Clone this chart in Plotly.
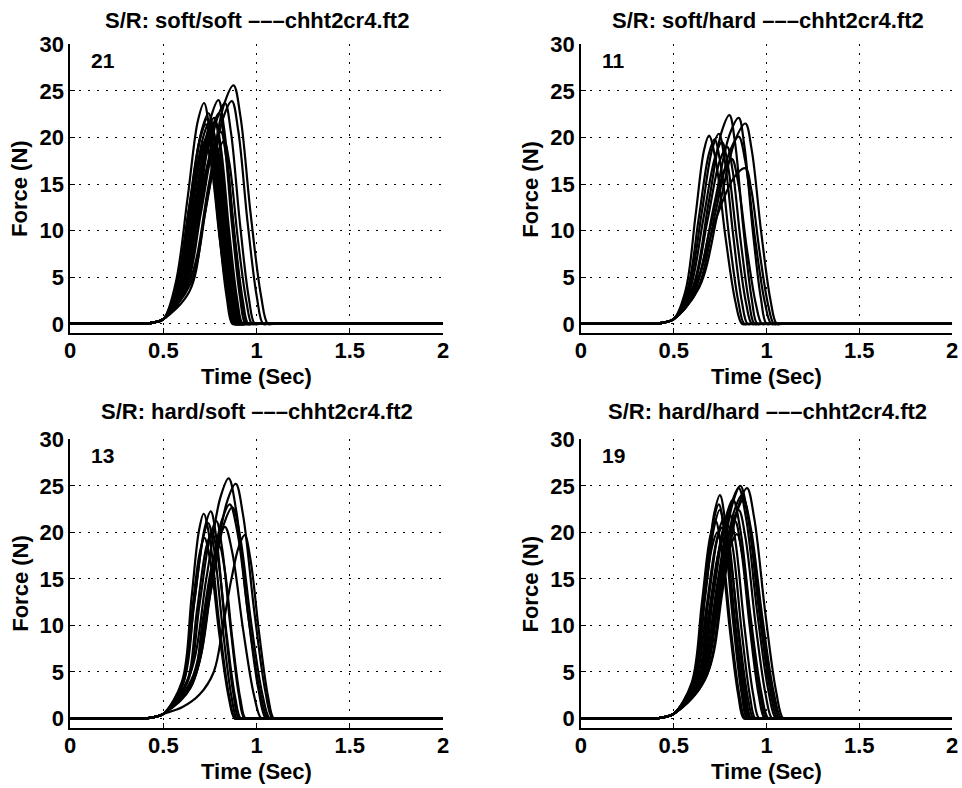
import plotly.graph_objects as go

# ---------------- data ----------------
PANEL_TITLES = [
    "S/R: soft/soft –––chht2cr4.ft2",
    "S/R: soft/hard –––chht2cr4.ft2",
    "S/R: hard/soft –––chht2cr4.ft2",
    "S/R: hard/hard –––chht2cr4.ft2",
]
CURVE_COUNTS = ["21", "11", "13", "19"]
X_TITLE = "Time (Sec)"
Y_TITLE = "Force (N)"
X_TICKS = [0, 0.5, 1, 1.5, 2]
X_TICK_LABELS = ["0", "0.5", "1", "1.5", "2"]
Y_TICKS = [0, 5, 10, 15, 20, 25, 30]
Y_TICK_LABELS = ["0", "5", "10", "15", "20", "25", "30"]

# common flat start of every trial and flat end
BASE_T = [0.0, 0.30, 0.40, 0.45, 0.50]
BASE_F = [0.0, 0.0, 0.0, 0.15, 0.5]
END_T = [2.0]
END_F = [0.0]

# soft/soft (21 trials): time points (s) and forces (N)
SS_T = [
    [0.565, 0.631, 0.685, 0.718, 0.748, 0.794, 0.840, 0.870, 0.900],
    [0.573, 0.645, 0.706, 0.742, 0.772, 0.816, 0.860, 0.890, 0.920],
    [0.571, 0.641, 0.700, 0.735, 0.765, 0.810, 0.855, 0.885, 0.915],
    [0.568, 0.637, 0.694, 0.728, 0.758, 0.803, 0.848, 0.878, 0.908],
    [0.576, 0.651, 0.714, 0.752, 0.782, 0.826, 0.870, 0.900, 0.930],
    [0.592, 0.664, 0.724, 0.760, 0.789, 0.833, 0.876, 0.905, 0.935],
    [0.581, 0.651, 0.710, 0.745, 0.775, 0.820, 0.865, 0.895, 0.925],
    [0.595, 0.670, 0.733, 0.770, 0.798, 0.841, 0.884, 0.912, 0.942],
    [0.575, 0.639, 0.693, 0.725, 0.756, 0.803, 0.849, 0.880, 0.910],
    [0.598, 0.676, 0.741, 0.780, 0.809, 0.853, 0.896, 0.925, 0.955],
    [0.603, 0.685, 0.754, 0.795, 0.826, 0.873, 0.919, 0.950, 0.980],
    [0.610, 0.691, 0.758, 0.798, 0.826, 0.869, 0.912, 0.940, 0.970],
    [0.620, 0.710, 0.785, 0.830, 0.862, 0.910, 0.958, 0.990, 1.020],
    [0.645, 0.740, 0.819, 0.867, 0.901, 0.951, 1.001, 1.035, 1.065],
    [0.641, 0.742, 0.826, 0.876, 0.913, 0.968, 1.023, 1.060, 1.090],
    [0.620, 0.701, 0.768, 0.808, 0.837, 0.882, 0.926, 0.955, 0.985],
    [0.600, 0.669, 0.727, 0.762, 0.790, 0.831, 0.872, 0.900, 0.930],
    [0.606, 0.681, 0.744, 0.782, 0.810, 0.851, 0.892, 0.920, 0.950],
    [0.571, 0.643, 0.702, 0.738, 0.768, 0.813, 0.858, 0.888, 0.918],
    [0.640, 0.719, 0.785, 0.825, 0.855, 0.900, 0.945, 0.975, 1.005],
    [0.589, 0.667, 0.733, 0.772, 0.801, 0.844, 0.886, 0.915, 0.945],
]
SS_F = [
    [4.3, 13.7, 21.8, 23.7, 20.6, 10.9, 2.8, 0, 0],
    [4.1, 13.1, 20.8, 22.6, 19.7, 10.4, 2.7, 0, 0],
    [4.0, 12.8, 20.2, 22.0, 19.1, 10.1, 2.6, 0, 0],
    [3.9, 12.4, 19.7, 21.4, 18.6, 9.8, 2.6, 0, 0],
    [3.9, 12.6, 20.1, 21.8, 19.0, 10.0, 2.6, 0, 0],
    [3.8, 12.2, 19.3, 21.0, 18.3, 9.7, 2.5, 0, 0],
    [3.7, 11.9, 18.9, 20.5, 17.8, 9.4, 2.5, 0, 0],
    [3.6, 11.6, 18.4, 20.0, 17.4, 9.2, 2.4, 0, 0],
    [3.5, 11.4, 18.0, 19.6, 17.1, 9.0, 2.4, 0, 0],
    [3.9, 12.5, 19.9, 21.6, 18.8, 9.9, 2.6, 0, 0],
    [4.3, 13.9, 22.1, 24.0, 20.9, 11.0, 2.9, 0, 0],
    [4.1, 13.1, 20.8, 22.6, 19.7, 10.4, 2.7, 0, 0],
    [4.3, 13.7, 21.8, 23.7, 20.6, 10.9, 2.8, 0, 0],
    [4.3, 13.9, 22.0, 23.9, 20.8, 11.0, 2.9, 0, 0],
    [4.6, 14.8, 23.6, 25.6, 22.3, 11.8, 3.1, 0, 0],
    [3.7, 11.9, 19.0, 20.6, 17.9, 9.5, 2.5, 0, 0],
    [3.2, 10.2, 16.2, 17.6, 15.3, 8.1, 2.1, 0, 0],
    [3.4, 11.1, 17.6, 19.1, 16.6, 8.8, 2.3, 0, 0],
    [3.6, 11.7, 18.5, 20.1, 17.5, 9.2, 2.4, 0, 0],
    [3.5, 11.4, 18.0, 19.6, 17.1, 9.0, 2.4, 0, 0],
    [4.0, 12.8, 20.3, 22.1, 19.2, 10.2, 2.7, 0, 0],
]

# soft/hard (11 trials)
SH_T = [
    [0.564, 0.618, 0.663, 0.690, 0.726, 0.779, 0.832, 0.868, 0.898],
    [0.580, 0.650, 0.708, 0.743, 0.774, 0.821, 0.867, 0.898, 0.928],
    [0.604, 0.688, 0.758, 0.800, 0.830, 0.875, 0.920, 0.950, 0.980],
    [0.619, 0.718, 0.801, 0.850, 0.880, 0.925, 0.970, 1.000, 1.030],
    [0.637, 0.744, 0.833, 0.886, 0.920, 0.971, 1.021, 1.055, 1.085],
    [0.626, 0.722, 0.802, 0.850, 0.885, 0.938, 0.990, 1.025, 1.055],
    [0.600, 0.681, 0.748, 0.788, 0.817, 0.862, 0.906, 0.935, 0.965],
    [0.616, 0.732, 0.828, 0.886, 0.917, 0.963, 1.009, 1.040, 1.070],
    [0.608, 0.696, 0.769, 0.813, 0.845, 0.894, 0.943, 0.975, 1.005],
    [0.585, 0.660, 0.723, 0.760, 0.792, 0.841, 0.889, 0.921, 0.951],
    [0.573, 0.636, 0.689, 0.720, 0.752, 0.800, 0.848, 0.880, 0.910],
]
SH_F = [
    [3.6, 11.7, 18.6, 20.2, 17.6, 9.3, 2.4, 0, 0],
    [3.7, 11.8, 18.8, 20.4, 17.7, 9.4, 2.4, 0, 0],
    [4.0, 13.0, 20.6, 22.4, 19.5, 10.3, 2.7, 0, 0],
    [4.0, 12.8, 20.3, 22.1, 19.2, 10.2, 2.7, 0, 0],
    [3.9, 12.5, 19.8, 21.5, 18.7, 9.9, 2.6, 0, 0],
    [3.6, 11.7, 18.5, 20.1, 17.5, 9.2, 2.4, 0, 0],
    [3.4, 11.0, 17.5, 19.0, 16.5, 8.7, 2.3, 0, 0],
    [4.0, 11.5, 15.8, 16.7, 14.5, 7.7, 2.0, 0, 0],
    [3.2, 10.3, 16.3, 17.7, 15.4, 8.1, 2.1, 0, 0],
    [3.5, 11.3, 17.9, 19.5, 17.0, 9.0, 2.3, 0, 0],
    [3.6, 11.5, 18.2, 19.8, 17.2, 9.1, 2.4, 0, 0],
]

# hard/soft (13 trials)
HS_T = [
    [0.640, 0.730, 0.805, 0.850, 0.890, 0.950, 1.010, 1.050, 1.080],
    [0.665, 0.761, 0.840, 0.888, 0.927, 0.987, 1.046, 1.085, 1.115],
    [0.600, 0.650, 0.691, 0.716, 0.750, 0.800, 0.851, 0.885, 0.915],
    [0.604, 0.668, 0.722, 0.754, 0.784, 0.830, 0.875, 0.905, 0.935],
    [0.649, 0.738, 0.812, 0.856, 0.897, 0.958, 1.019, 1.060, 1.090],
    [0.660, 0.750, 0.825, 0.870, 0.910, 0.970, 1.030, 1.070, 1.100],
    [0.600, 0.695, 0.770, 0.820, 0.865, 0.905, 0.936, 0.967, 1.014, 1.061, 1.092, 1.120],
    [0.655, 0.730, 0.793, 0.830, 0.869, 0.928, 0.986, 1.025, 1.055],
    [0.601, 0.652, 0.695, 0.720, 0.752, 0.801, 0.850, 0.882, 0.912],
    [0.627, 0.694, 0.750, 0.784, 0.814, 0.860, 0.905, 0.935, 0.965],
    [0.607, 0.664, 0.712, 0.740, 0.771, 0.818, 0.864, 0.895, 0.925],
    [0.620, 0.680, 0.730, 0.760, 0.791, 0.838, 0.884, 0.915, 0.945],
    [0.646, 0.712, 0.767, 0.800, 0.828, 0.870, 0.912, 0.940, 0.970],
]
HS_F = [
    [4.6, 15.0, 23.7, 25.8, 22.4, 11.9, 3.1, 0, 0],
    [4.5, 14.6, 23.2, 25.2, 21.9, 11.6, 3.0, 0, 0],
    [4.0, 12.8, 20.2, 22.0, 19.1, 10.1, 2.6, 0, 0],
    [4.0, 12.9, 20.5, 22.25, 19.4, 10.2, 2.7, 0, 0],
    [4.1, 13.3, 21.2, 23.0, 20.0, 10.6, 2.8, 0, 0],
    [4.1, 13.2, 20.9, 22.7, 19.7, 10.4, 2.7, 0, 0],
    [1.2, 2.6, 5.0, 10.0, 15.0, 18.5, 19.7, 17.1, 9.1, 2.4, 0, 0],
    [3.7, 11.9, 19.0, 20.6, 17.9, 9.5, 2.5, 0, 0],
    [3.5, 11.3, 17.8, 19.4, 16.9, 8.9, 2.3, 0, 0],
    [3.8, 12.3, 19.5, 21.2, 18.4, 9.8, 2.5, 0, 0],
    [3.8, 12.2, 19.3, 21.0, 18.3, 9.7, 2.5, 0, 0],
    [3.6, 11.6, 18.4, 20.0, 17.4, 9.2, 2.4, 0, 0],
    [3.3, 10.7, 17.0, 18.5, 16.1, 8.5, 2.2, 0, 0],
]

# hard/hard (19 trials)
HH_T = [
    [0.610, 0.669, 0.719, 0.749, 0.779, 0.825, 0.870, 0.900, 0.930],
    [0.657, 0.743, 0.816, 0.859, 0.899, 0.960, 1.020, 1.060, 1.090],
    [0.675, 0.769, 0.848, 0.895, 0.934, 0.993, 1.051, 1.090, 1.120],
    [0.647, 0.734, 0.807, 0.850, 0.890, 0.950, 1.010, 1.050, 1.080],
    [0.608, 0.666, 0.714, 0.743, 0.773, 0.819, 0.865, 0.895, 0.925],
    [0.609, 0.669, 0.718, 0.748, 0.779, 0.827, 0.874, 0.905, 0.935],
    [0.596, 0.651, 0.697, 0.725, 0.755, 0.801, 0.847, 0.877, 0.907],
    [0.623, 0.686, 0.739, 0.770, 0.800, 0.844, 0.888, 0.918, 0.948],
    [0.651, 0.733, 0.800, 0.841, 0.873, 0.921, 0.968, 1.000, 1.030],
    [0.654, 0.738, 0.808, 0.850, 0.886, 0.940, 0.994, 1.030, 1.060],
    [0.641, 0.722, 0.790, 0.830, 0.862, 0.910, 0.958, 0.990, 1.020],
    [0.659, 0.749, 0.823, 0.868, 0.908, 0.969, 1.030, 1.070, 1.100],
    [0.613, 0.676, 0.729, 0.760, 0.790, 0.836, 0.882, 0.912, 0.942],
    [0.599, 0.657, 0.706, 0.735, 0.765, 0.810, 0.855, 0.885, 0.915],
    [0.629, 0.698, 0.756, 0.790, 0.820, 0.865, 0.910, 0.940, 0.970],
    [0.638, 0.716, 0.781, 0.820, 0.858, 0.915, 0.972, 1.010, 1.040],
    [0.669, 0.757, 0.831, 0.875, 0.916, 0.978, 1.039, 1.080, 1.110],
    [0.625, 0.689, 0.743, 0.775, 0.806, 0.853, 0.899, 0.930, 0.960],
    [0.632, 0.704, 0.764, 0.800, 0.832, 0.880, 0.928, 0.960, 0.990],
]
HH_F = [
    [4.3, 13.9, 22.1, 24.0, 20.9, 11.0, 2.9, 0, 0],
    [4.5, 14.5, 23.0, 25.0, 21.8, 11.5, 3.0, 0, 0],
    [4.5, 14.4, 22.8, 24.75, 21.5, 11.4, 3.0, 0, 0],
    [4.5, 14.4, 22.8, 24.75, 21.5, 11.4, 3.0, 0, 0],
    [4.1, 13.3, 21.2, 23.0, 20.0, 10.6, 2.8, 0, 0],
    [4.0, 13.0, 20.6, 22.4, 19.5, 10.3, 2.7, 0, 0],
    [3.8, 12.3, 19.6, 21.25, 18.5, 9.8, 2.6, 0, 0],
    [3.9, 12.5, 19.8, 21.5, 18.7, 9.9, 2.6, 0, 0],
    [3.6, 11.5, 18.2, 19.8, 17.2, 9.1, 2.4, 0, 0],
    [4.0, 13.0, 20.6, 22.4, 19.5, 10.3, 2.7, 0, 0],
    [3.8, 12.3, 19.5, 21.2, 18.4, 9.8, 2.5, 0, 0],
    [4.3, 13.9, 22.1, 24.0, 20.9, 11.0, 2.9, 0, 0],
    [3.7, 11.9, 18.9, 20.5, 17.8, 9.4, 2.5, 0, 0],
    [3.6, 11.6, 18.4, 20.0, 17.4, 9.2, 2.4, 0, 0],
    [3.7, 12.1, 19.1, 20.8, 18.1, 9.6, 2.5, 0, 0],
    [4.2, 13.6, 21.6, 23.5, 20.4, 10.8, 2.8, 0, 0],
    [4.2, 13.6, 21.6, 23.5, 20.4, 10.8, 2.8, 0, 0],
    [3.5, 11.3, 17.9, 19.5, 17.0, 9.0, 2.3, 0, 0],
    [4.0, 12.8, 20.2, 22.0, 19.1, 10.1, 2.6, 0, 0],
]

PANELS = [(SS_T, SS_F), (SH_T, SH_F), (HS_T, HS_F), (HH_T, HH_F)]

# ---------------- layout / style ----------------
W, H = 962, 788
# the captured picture comes out very slightly shrunk about its centre,
# so reference pixel positions are spread out a little to compensate
SX, SY, DY = 0.988, 0.986, 2.7


def px(x):
    return min(max((W / 2 + (x - W / 2) / SX) / W, 0.0), 1.0)


def py(y):
    return min(max(1 - (H / 2 + (y - H / 2 - DY) / SY) / H, 0.0), 1.0)


FONT = "Liberation Sans, Arial, Helvetica, sans-serif"
X_DOMS = [[px(70), px(443)], [px(581), min(px(955), 958 / W)]]
Y_DOMS = [[py(331), py(40.7)], [py(727.7), py(437.7)]]
TITLE_X = [(px(70) + px(443)) / 2, (px(581) + px(955)) / 2]
TITLE_Y = [py(17), py(410)]
XTITLE_Y = [py(375), py(772)]
YTITLE_X = [px(20), px(531)]

fig = go.Figure()
layout = dict(
    width=W, height=H, margin=dict(l=0, r=0, t=0, b=0, pad=0),
    paper_bgcolor="white", plot_bgcolor="white",
    showlegend=False, font=dict(family=FONT, color="black"),
    annotations=[],
)

for i, (TT, FF) in enumerate(PANELS):
    row, col = divmod(i, 2)
    sfx = "" if i == 0 else str(i + 1)
    xa, ya = "x" + sfx, "y" + sfx
    for t, f in zip(TT, FF):
        fig.add_trace(go.Scatter(
            x=BASE_T + t + END_T, y=BASE_F + f + END_F, mode="lines",
            line=dict(color="black", width=2.2, shape="spline", smoothing=1.0),
            xaxis=xa, yaxis=ya, hoverinfo="skip", showlegend=False))
    common = dict(
        showline=True, linecolor="black", linewidth=1.8, mirror=False,
        ticks="inside", ticklen=5, tickwidth=1.2, tickcolor="black",
        showgrid=True, gridcolor="black", gridwidth=1.2, griddash="2px,7px",
        zeroline=False,
        tickfont=dict(family=FONT, size=22, color="black", weight="bold"),
        fixedrange=True,
    )
    layout["xaxis" + sfx] = dict(
        common, domain=X_DOMS[col], anchor=ya, range=[0, 2],
        tickmode="array", tickvals=X_TICKS, ticktext=X_TICK_LABELS,
        ticklabelstandoff=-3)
    layout["yaxis" + sfx] = dict(
        common, domain=Y_DOMS[row], anchor=xa, range=[-1, 30],
        tickmode="array", tickvals=Y_TICKS, ticktext=Y_TICK_LABELS,
        ticklabelstandoff=0)
    xc = (X_DOMS[col][0] + X_DOMS[col][1]) / 2
    yc = (Y_DOMS[row][0] + Y_DOMS[row][1]) / 2
    tfont = dict(family=FONT, size=22, color="black", weight="bold")
    layout["annotations"] += [
        dict(text=PANEL_TITLES[i], x=TITLE_X[col], y=TITLE_Y[row],
             xref="paper", yref="paper", xanchor="center", yanchor="middle",
             showarrow=False, font=tfont),
        dict(text=X_TITLE, x=xc, y=XTITLE_Y[row], xref="paper", yref="paper",
             xanchor="center", yanchor="middle", showarrow=False,
             font=dict(family=FONT, size=22, color="black", weight="bold")),
        dict(text=Y_TITLE, x=YTITLE_X[col], y=yc, xref="paper", yref="paper",
             xanchor="center", yanchor="middle", showarrow=False, textangle=-90,
             font=tfont),
        dict(text=CURVE_COUNTS[i], x=0.1, y=28.3, xref=xa, yref=ya,
             xanchor="left", yanchor="middle", showarrow=False,
             font=dict(family=FONT, size=21, color="black", weight="bold")),
    ]

fig.update_layout(**layout)
fig.write_html("out.html")
